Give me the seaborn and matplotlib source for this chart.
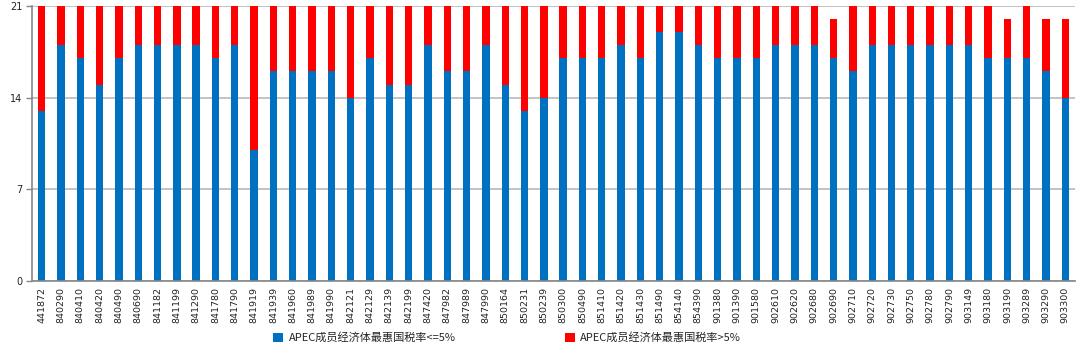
import matplotlib
matplotlib.use("Agg")
import matplotlib.pyplot as plt
import seaborn as sns
import pandas as pd
import numpy as np
from matplotlib.patches import Patch

codes = ["441872", "840290", "840410", "840420", "840490", "840690", "841182", "841199",
         "841290", "841780", "841790", "841919", "841939", "841960", "841989", "841990",
         "842121", "842129", "842139", "842199", "847420", "847982", "847989", "847990",
         "850164", "850231", "850239", "850300", "850490", "851410", "851420", "851430",
         "851490", "854140", "854390", "901380", "901390", "901580", "902610", "902620",
         "902680", "902690", "902710", "902720", "902730", "902750", "902780", "902790",
         "903149", "903180", "903190", "903289", "903290", "903300"]
low = [13, 18, 17, 15, 17, 18, 18, 18, 18, 17, 18, 10, 16, 16, 16, 16,
       14, 17, 15, 15, 18, 16, 16, 18, 15, 13, 14, 17, 17, 17, 18, 17,
       19, 19, 18, 17, 17, 17, 18, 18, 18, 17, 16, 18, 18, 18, 18, 18,
       18, 17, 17, 17, 16, 14]
total = [21] * 41 + [20] + [21] * 8 + [20, 21, 20, 20]
high = [t - l for t, l in zip(total, low)]

label_low = "APEC成员经济体最惠国税率<=5%"
label_high = "APEC成员经济体最惠国税率>5%"
blue = "#0070C0"
red = "#FF0000"

df = pd.DataFrame({"code": codes, "low": low, "high": high})
df["total"] = df["low"] + df["high"]

sns.set_style("white")
plt.rcParams["font.family"] = ["DejaVu Sans", "Noto Sans CJK SC"]

fig, ax = plt.subplots(figsize=(10.84, 3.53), dpi=100)
fig.subplots_adjust(left=0.0295, right=0.9917, top=0.983, bottom=0.204)

sns.barplot(data=df, x="code", y="total", color=red, width=0.38, ax=ax,
            saturation=1, edgecolor="none", linewidth=0)
sns.barplot(data=df, x="code", y="low", color=blue, width=0.38, ax=ax,
            saturation=1, edgecolor="none", linewidth=0)

n = len(codes)
ax.set_xlim(-0.5, n - 0.5)
ax.set_ylim(0, 21)
ax.set_yticks([0, 7, 14, 21])
ax.set_xlabel("")
ax.set_ylabel("")
ax.yaxis.grid(True, color="#BEBEBE", linewidth=1.3)
ax.set_axisbelow(True)
for s in ["top", "right"]:
    ax.spines[s].set_visible(False)
for s in ["left", "bottom"]:
    ax.spines[s].set_color("#868686")
    ax.spines[s].set_linewidth(1.2)

ax.set_xticks(range(n))
ax.set_xticklabels(codes, rotation=90, fontsize=6.8, color="#222222")
ax.tick_params(axis="x", which="major", length=0, pad=4)
ax.set_xticks(np.arange(-0.5, n, 1.0), minor=True)
ax.tick_params(axis="x", which="minor", length=4, color="#868686", width=1, direction="out")
ax.tick_params(axis="y", length=4, color="#868686", width=1, labelsize=7, pad=3,
               labelcolor="#222222", left=True)

handles = [Patch(facecolor=blue, edgecolor="none"), Patch(facecolor=red, edgecolor="none")]
leg = fig.legend(handles, [label_low, label_high], loc="center", ncol=2,
                 bbox_to_anchor=(0.468, 0.043), frameon=False,
                 prop={"family": ["Noto Sans CJK SC", "DejaVu Sans"], "size": 8},
                 handlelength=0.9, handleheight=0.9, handletextpad=0.5, columnspacing=9.8)

fig.savefig("out.png", dpi=100)
